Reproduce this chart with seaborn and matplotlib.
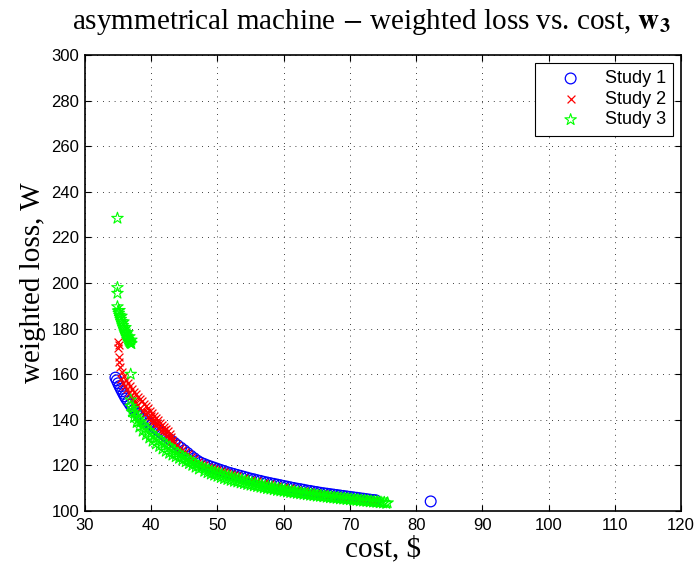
import matplotlib
matplotlib.use("Agg")
import matplotlib.pyplot as plt
import seaborn as sns

# Study 1 - blue circles (front plus the lone point at 82)
blue_cost = [34.6, 34.8, 35.0, 35.2, 35.4, 35.6, 35.8, 36.0, 36.2, 36.5,
             36.8, 37.1, 37.4, 37.7, 38.0, 38.4, 38.8, 39.2, 39.6, 40.0,
             40.5, 41.0, 41.5, 42.0, 42.5, 43.0, 43.5, 44.0, 44.5, 45.0,
             45.5, 46.0, 46.5, 47.0, 47.5, 48.0, 48.5, 49.0, 49.5, 50.0,
             50.5, 51.0, 51.5, 52.0, 52.5, 53.0, 53.5, 54.0, 54.5, 55.0,
             55.5, 56.0, 56.5, 57.0, 57.5, 58.0, 58.5, 59.0, 59.5, 60.0,
             60.5, 61.0, 61.5, 62.0, 62.5, 63.0, 63.5, 64.0, 64.5, 65.0,
             65.5, 66.0, 66.5, 67.0, 67.5, 68.0, 68.5, 69.0, 69.5, 70.0,
             70.5, 71.0, 71.5, 72.0, 72.5, 73.0, 73.5, 73.9, 82.2]
blue_loss = [158.5, 157.3, 156.0, 154.8, 153.6, 152.5, 151.4, 150.3, 149.3, 148.0,
             146.7, 145.5, 144.5, 143.5, 142.5, 141.5, 140.5, 139.5, 138.5, 137.6,
             136.5, 135.4, 134.3, 133.2, 132.1, 131.0, 129.9, 128.8, 127.7, 126.6,
             125.4, 124.2, 123.1, 122.0, 121.2, 120.6, 120.0, 119.5, 119.0, 118.5,
             118.0, 117.5, 117.0, 116.6, 116.2, 115.8, 115.4, 115.0, 114.6, 114.2,
             113.9, 113.5, 113.2, 112.8, 112.5, 112.2, 111.9, 111.6, 111.3, 111.0,
             110.7, 110.4, 110.1, 109.8, 109.6, 109.3, 109.0, 108.8, 108.5, 108.3,
             108.0, 107.8, 107.6, 107.4, 107.2, 107.0, 106.8, 106.6, 106.4, 106.2,
             106.0, 105.8, 105.6, 105.4, 105.2, 105.0, 104.8, 104.7, 104.2]

# Study 2 - red crosses
red_iso_cost = [35.0, 35.1, 35.0, 35.2, 35.2]
red_iso_loss = [174.0, 172.8, 171.5, 167.5, 165.5]
red_top_cost = [35.3, 35.6, 35.9, 36.2, 36.5, 36.8, 37.1, 37.4, 37.7, 38.0,
                38.3, 38.6, 38.9, 39.2, 39.5, 39.8, 40.1, 40.4, 40.7, 41.0,
                41.3, 41.6, 41.9, 42.2, 42.5, 42.8, 43.0, 43.2, 43.5, 43.9,
                44.3, 44.7, 45.1, 45.5, 46.0, 46.5, 47.0, 47.5, 48.0, 48.5,
                49.0, 49.5, 50.0, 50.5, 51.0, 51.5, 52.0, 52.5, 53.0, 54.0,
                55.0, 56.0, 57.0, 58.0, 59.0, 60.0, 61.0, 62.0, 63.0, 64.0,
                65.0, 66.0, 67.0, 68.0, 69.0, 70.0, 71.0, 72.0, 73.0, 73.6]
red_top_loss = [163.0, 160.8, 159.0, 157.4, 156.0, 154.7, 153.5, 152.3, 151.2, 150.2,
                149.2, 148.2, 147.1, 146.0, 145.0, 143.9, 142.8, 141.8, 140.8, 139.8,
                138.8, 137.8, 136.8, 135.9, 135.0, 133.8, 132.5, 131.0, 129.8, 128.8,
                127.8, 126.9, 126.0, 125.0, 123.7, 122.6, 121.6, 120.8, 120.1, 119.5,
                119.0, 118.5, 118.0, 117.5, 117.0, 116.5, 116.1, 115.7, 115.3, 114.5,
                113.7, 113.0, 112.3, 111.7, 111.1, 110.5, 109.9, 109.3, 108.8, 108.3,
                107.8, 107.3, 106.9, 106.5, 106.1, 105.7, 105.3, 104.9, 104.5, 104.3]
red_low_cost = [35.5, 35.8, 36.1, 36.4, 36.7, 37.0, 37.3, 37.6, 37.9, 38.3,
                38.7, 39.1, 39.5, 39.9, 40.3, 40.7, 41.1, 41.5, 41.9, 42.3,
                42.7, 43.1,
                39.4, 39.9, 40.4, 40.9, 41.4, 41.9]
red_low_loss = [158.0, 156.3, 154.8, 153.3, 151.8, 150.4, 149.0, 147.8, 146.6, 145.3,
                144.0, 142.7, 141.4, 140.1, 138.8, 137.6, 136.4, 135.3, 134.2, 133.1,
                132.0, 130.9,
                143.3, 141.8, 140.1, 138.5, 136.9, 135.5]

# Study 3 - green stars
green_branch_cost = [34.9, 34.9, 34.9, 34.9, 35.0, 35.1, 35.2, 35.3, 35.4, 35.5,
                     35.6, 35.7, 35.8, 35.9, 36.0, 36.1, 36.2, 36.3, 36.4, 36.5,
                     36.6, 36.7, 36.8, 36.9, 37.0,
                     35.2, 35.5, 35.8, 36.1, 36.4, 36.7, 37.0, 36.9]
green_branch_loss = [228.4, 198.0, 195.5, 189.6, 187.8, 186.8, 185.9, 185.0, 184.1, 183.2,
                     182.3, 181.4, 180.6, 179.8, 179.0, 178.2, 177.5, 176.8, 176.1, 175.4,
                     174.8, 174.3, 173.9, 173.6, 173.4,
                     188.0, 185.5, 183.0, 180.5, 178.3, 176.5, 175.0, 160.0]
green_up_cost = [36.9, 37.2, 37.5, 37.8, 38.1, 38.4, 38.8, 39.2, 39.6, 40.0,
                 40.4, 40.8, 41.2, 41.6, 42.0, 42.4, 42.8, 43.2, 43.6, 44.0,
                 44.4, 44.8, 45.2, 45.6, 46.0, 46.4, 46.8, 47.2]
green_up_loss = [148.7, 145.0, 143.0, 141.6, 140.3, 139.1, 137.7, 136.5, 135.3, 134.2,
                 133.1, 132.2, 131.3, 130.4, 129.6, 128.9, 128.2, 127.0, 126.2, 125.4,
                 124.7, 124.0, 123.3, 122.6, 121.9, 121.2, 120.5, 119.8]
green_lo_cost = [36.9, 37.1, 37.4, 37.8, 38.2, 38.7, 39.2, 39.7, 40.2, 40.7,
                 41.2, 41.7, 42.2, 42.7, 43.2, 43.7, 44.2, 44.7, 45.2, 45.7,
                 46.2, 46.7, 47.2]
green_lo_loss = [146.0, 143.5, 141.0, 138.8, 136.8, 135.0, 133.4, 132.0, 130.6, 129.4,
                 128.3, 127.2, 126.2, 125.3, 124.5, 123.8, 123.1, 122.4, 121.6, 120.8,
                 120.0, 119.2, 118.4]
green_a_cost = [47.7, 48.2, 48.7, 49.2, 49.7, 50.2, 50.7, 51.2, 51.7, 52.2,
                52.7, 53.2, 53.7, 54.2, 54.7, 55.2, 55.7, 56.2, 56.7, 57.2,
                57.7, 58.2, 58.7, 59.2, 59.7, 60.2, 60.7, 61.2, 61.7, 62.2,
                62.7, 63.2, 63.7, 64.2, 64.7, 65.2, 65.7, 66.2, 66.7, 67.2,
                67.7, 68.2, 68.7, 69.2, 69.7, 70.2, 70.7, 71.2, 71.7, 72.2,
                72.7, 73.2, 73.7, 74.2, 74.7, 75.2, 75.7]
green_a_loss = [119.3, 118.7, 118.1, 117.6, 117.1, 116.6, 116.1, 115.7, 115.3, 114.9,
                114.5, 114.1, 113.7, 113.3, 112.9, 112.5, 112.1, 111.8, 111.4, 111.1,
                110.8, 110.5, 110.2, 109.9, 109.6, 109.3, 109.0, 108.8, 108.5, 108.3,
                108.0, 107.8, 107.6, 107.4, 107.2, 107.0, 106.8, 106.6, 106.4, 106.2,
                106.0, 105.9, 105.7, 105.6, 105.4, 105.3, 105.1, 105.0, 104.8, 104.7,
                104.5, 104.4, 104.2, 104.1, 103.9, 103.8, 103.6]
green_b_cost = [48.0, 48.5, 49.0, 49.5, 50.0, 50.5, 51.0, 51.5, 52.0, 52.5,
                53.0, 53.5, 54.0, 54.5, 55.0, 55.5, 56.0, 56.5, 57.0, 57.5,
                58.0, 58.5, 59.0, 59.5, 60.0, 60.5, 61.0, 61.5, 62.0, 62.5,
                63.0, 63.5, 64.0, 64.5, 65.0, 65.5, 66.0, 66.5, 67.0, 67.5,
                68.0, 68.5, 69.0, 69.5, 70.0, 70.5, 71.0, 71.5, 72.0, 72.5,
                73.0, 73.5, 74.0, 74.5, 75.0, 75.5]
green_b_loss = [117.4, 116.8, 116.2, 115.7, 115.2, 114.7, 114.2, 113.8, 113.4, 113.0,
                112.7, 112.3, 112.0, 111.6, 111.3, 111.0, 110.7, 110.4, 110.1, 109.8,
                109.6, 109.3, 109.0, 108.8, 108.6, 108.3, 108.1, 107.9, 107.7, 107.5,
                107.3, 107.1, 106.9, 106.7, 106.5, 106.4, 106.2, 106.0, 105.8, 105.7,
                105.5, 105.3, 105.2, 105.0, 104.9, 104.7, 104.6, 104.4, 104.3, 104.2,
                104.0, 103.9, 103.8, 103.6, 103.5, 103.3]

xticks = list(range(30, 121, 10))
yticks = list(range(100, 301, 20))

plt.rcParams['font.family'] = ['Liberation Sans', 'DejaVu Sans']
plt.rcParams['mathtext.fontset'] = 'stix'

fig = plt.figure(figsize=(6.96, 5.69), dpi=100)
ax = fig.add_axes([85 / 696, 58 / 569, 596 / 696, 456 / 569])

cost2 = red_iso_cost + red_top_cost + red_low_cost
loss2 = red_iso_loss + red_top_loss + red_low_loss
cost3 = green_branch_cost + green_up_cost + green_lo_cost + green_a_cost + green_b_cost
loss3 = green_branch_loss + green_up_loss + green_lo_loss + green_a_loss + green_b_loss

sns.scatterplot(x=blue_cost, y=blue_loss, ax=ax, marker='o', s=60, facecolor='none',
                edgecolor='blue', linewidth=0.9, label='Study 1', zorder=3)
sns.scatterplot(x=cost2, y=loss2, ax=ax, marker='x', s=32, color='red',
                linewidth=0.9, label='Study 2', zorder=4)
sns.scatterplot(x=cost3, y=loss3, ax=ax, marker='*', s=75, facecolor='none',
                edgecolor=(0, 1, 0), linewidth=0.8, label='Study 3', zorder=5)

ax.set_xlim(30, 120)
ax.set_ylim(100, 300)
ax.set_xticks(xticks)
ax.set_yticks(yticks)
ax.grid(True, color='k', linewidth=0.6, linestyle=(0, (1, 6)))
ax.set_axisbelow(True)
ax.tick_params(direction='in', length=4, width=0.8, top=True, right=True,
               labelsize=12, colors='k')
ax.tick_params(axis='x', pad=5)
ax.tick_params(axis='y', pad=4)
for sp in ax.spines.values():
    sp.set_linewidth(1.2)
    sp.set_color('k')

ax.set_xlabel('cost, $', family='Liberation Serif', fontsize=21, labelpad=2)
ax.set_ylabel('weighted loss, W', family='Liberation Serif', fontsize=21, labelpad=4)
ax.set_title(r'asymmetrical machine $-$ weighted loss vs. cost, $\mathbf{w}_\mathbf{3}$',
             family='Liberation Serif', fontsize=21, pad=19, x=0.48)

leg = ax.legend(loc='upper right', bbox_to_anchor=(0.9866, 0.9825), borderaxespad=0,
                fontsize=13, handlelength=3.15, handletextpad=0.31, labelspacing=0.2,
                fancybox=False, framealpha=1, edgecolor='k', scatterpoints=1,
                borderpad=0.4)
leg.get_frame().set_linewidth(0.8)

fig.savefig('out.png', dpi=100)
